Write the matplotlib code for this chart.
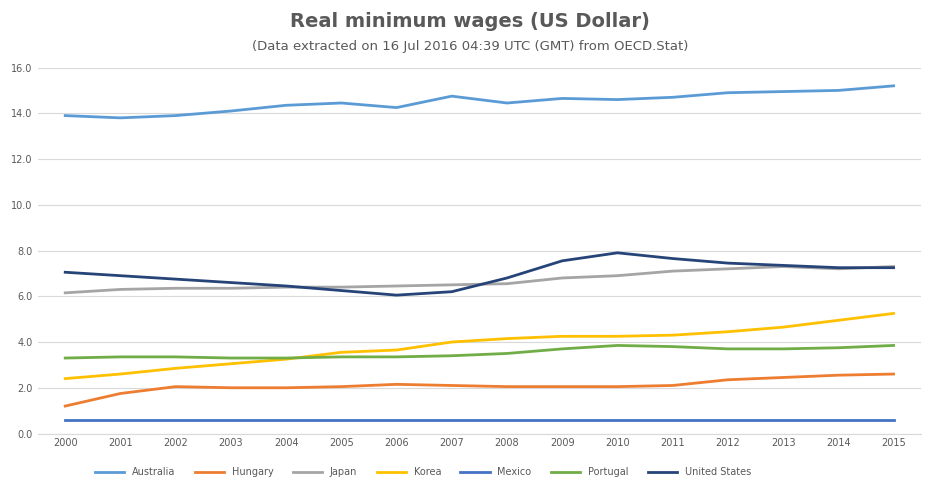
import matplotlib.pyplot as plt

years = list(range(2000, 2016))
australia = [13.9, 13.8, 13.9, 14.1, 14.35, 14.45, 14.25, 14.75, 14.45, 14.65, 14.6, 14.7, 14.9, 14.95, 15.0, 15.2]
hungary = [1.2, 1.75, 2.05, 2.0, 2.0, 2.05, 2.15, 2.1, 2.05, 2.05, 2.05, 2.1, 2.35, 2.45, 2.55, 2.6]
japan = [6.15, 6.3, 6.35, 6.35, 6.4, 6.4, 6.45, 6.5, 6.55, 6.8, 6.9, 7.1, 7.2, 7.3, 7.2, 7.3]
korea = [2.4, 2.6, 2.85, 3.05, 3.25, 3.55, 3.65, 4.0, 4.15, 4.25, 4.25, 4.3, 4.45, 4.65, 4.95, 5.25]
mexico = [0.6] * 16
portugal = [3.3, 3.35, 3.35, 3.3, 3.3, 3.35, 3.35, 3.4, 3.5, 3.7, 3.85, 3.8, 3.7, 3.7, 3.75, 3.85]
usa = [7.05, 6.9, 6.75, 6.6, 6.45, 6.25, 6.05, 6.2, 6.8, 7.55, 7.9, 7.65, 7.45, 7.35, 7.25, 7.25]

series = [("Australia", australia, "#5B9BD5"), ("Hungary", hungary, "#ED7D31"),
          ("Japan", japan, "#A5A5A5"), ("Korea", korea, "#FFC000"),
          ("Mexico", mexico, "#4472C4"), ("Portugal", portugal, "#70AD47"),
          ("United States", usa, "#264478")]

fig = plt.figure(figsize=(9.4, 4.86), dpi=100)
ax = fig.add_axes([0.04, 0.108, 0.94, 0.753])
x = list(range(len(years)))
for name, vals, col in series:
    ax.plot(x, vals, color=col, lw=2.0, label=name)

ax.set_ylim(0, 16)
ax.set_yticks(range(0, 17, 2))
ax.set_yticklabels([f"{v:.1f}" for v in range(0, 17, 2)], fontsize=7, color="#595959")
ax.set_xlim(-0.5, 15.5)
ax.set_xticks(x)
ax.set_xticklabels([str(y) for y in years], fontsize=7, color="#595959")
ax.grid(axis="y", color="#D9D9D9", lw=0.8)
ax.set_axisbelow(True)
for s in ["top", "right", "left"]:
    ax.spines[s].set_visible(False)
ax.spines["bottom"].set_color("#D9D9D9")
ax.tick_params(length=0)

fig.text(0.5, 0.945, "Real minimum wages (US Dollar)", ha="center", fontsize=14,
         fontweight="bold", color="#595959")
fig.text(0.5, 0.897, "(Data extracted on 16 Jul 2016 04:39 UTC (GMT) from OECD.Stat)",
         ha="center", fontsize=9.5, color="#595959")
fig.legend(loc="lower center", ncol=7, frameon=False, fontsize=7,
           bbox_to_anchor=(0.45, 0.0), handlelength=3, labelcolor="#595959")
fig.savefig("out.png")
